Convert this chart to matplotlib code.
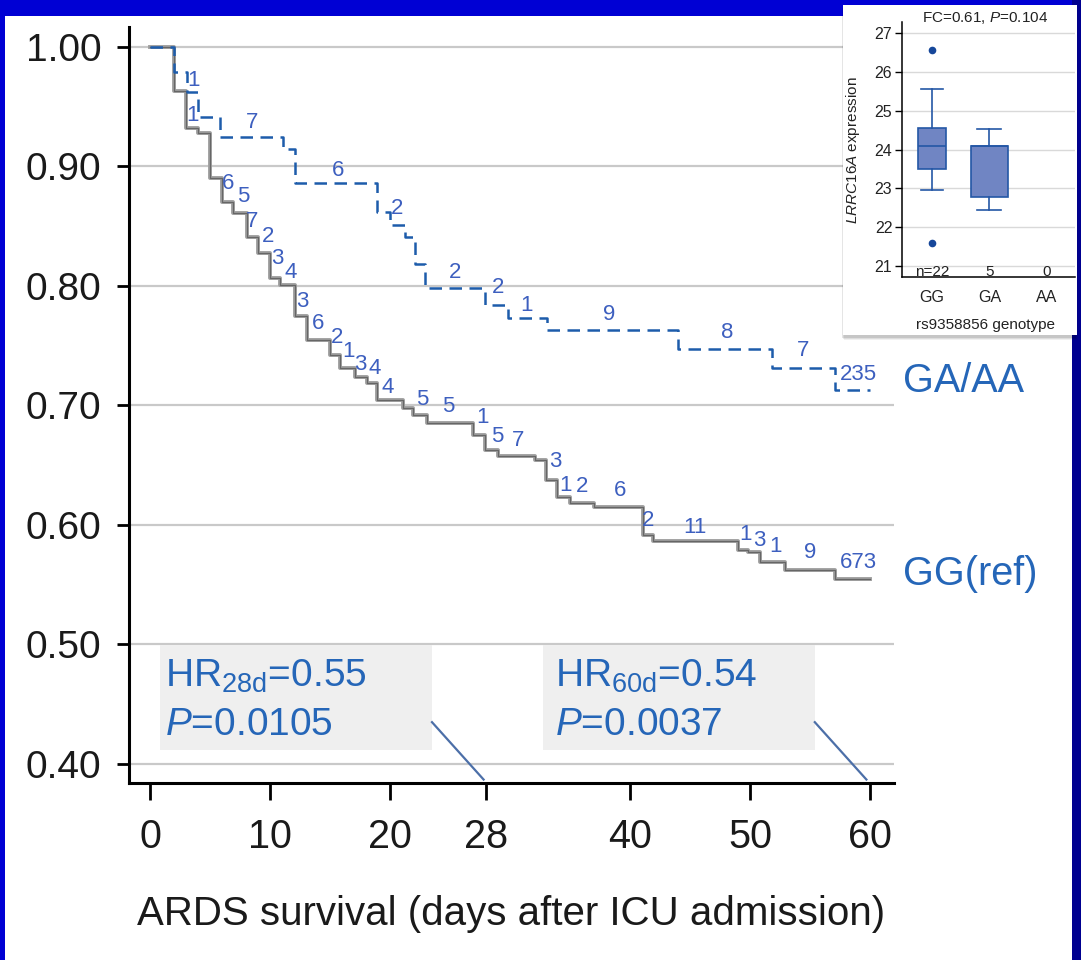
import matplotlib
matplotlib.use("Agg")
import matplotlib.pyplot as plt
from matplotlib.patches import Rectangle

plt.rcParams["font.family"] = ["Liberation Sans", "DejaVu Sans"]
plt.rcParams["mathtext.fontset"] = "custom"
plt.rcParams["mathtext.rm"] = "Liberation Sans"
plt.rcParams["mathtext.it"] = "Liberation Sans:italic"

# ---- Kaplan-Meier survival, GA/AA carriers ----
gaaa_time = [0, 2.0, 3.1, 4.0, 5.8, 11.1, 12.1, 18.9, 20.0, 21.25, 22.1, 22.9,
             27.9, 29.8, 33.1, 44.0, 51.8, 57.1, 60]
gaaa_surv = [1.0, 0.979, 0.962, 0.941, 0.925, 0.915, 0.886, 0.862, 0.851, 0.841,
             0.818, 0.798, 0.784, 0.773, 0.763, 0.747, 0.731, 0.713, 0.713]

# ---- Kaplan-Meier survival, GG (reference) ----
gg_time = [0, 2.0, 3.0, 4.0, 5.0, 6.0, 6.9, 8.1, 9.0, 10.0, 10.8, 12.1, 13.1, 15.0,
           15.8, 17.1, 18.1, 18.9, 21.1, 21.9, 23.1, 26.9, 27.9, 29.0, 32.1, 33.0,
           33.9, 35.0, 37.0, 41.1, 41.9, 49.0, 49.8, 50.8, 52.9, 57.1, 60]
gg_surv = [1.0, 0.963, 0.932, 0.928, 0.890, 0.870, 0.861, 0.841, 0.828, 0.807, 0.801,
           0.775, 0.755, 0.742, 0.731, 0.724, 0.719, 0.705, 0.698, 0.692, 0.685, 0.675,
           0.663, 0.658, 0.654, 0.638, 0.623, 0.618, 0.615, 0.592, 0.587, 0.579, 0.577,
           0.569, 0.562, 0.555, 0.555]

# censoring counts written along each curve
gaaa_cens_x = [3.6, 8.5, 15.7, 20.6, 25.4, 29.0, 31.4, 38.3, 48.1, 54.4, 59.0]
gaaa_cens_y = [0.972, 0.937, 0.897, 0.865, 0.811, 0.799, 0.784, 0.776, 0.761, 0.746, 0.726]
gaaa_cens_n = ["1", "7", "6", "2", "2", "2", "1", "9", "8", "7", "235"]

gg_cens_x = [3.5, 6.5, 7.75, 8.5, 9.83, 10.6, 11.75, 12.67, 14.0, 15.6, 16.5, 17.5,
             18.75, 19.83, 22.67, 24.83, 27.67, 28.9, 30.67, 33.75, 34.6, 36.0, 39.2,
             41.5, 45.4, 49.6, 50.8, 52.1, 55.0, 59.0]
gg_cens_y = [0.943, 0.886, 0.875, 0.854, 0.841, 0.823, 0.811, 0.787, 0.769, 0.757,
             0.745, 0.734, 0.731, 0.715, 0.705, 0.699, 0.690, 0.674, 0.671, 0.653,
             0.633, 0.632, 0.629, 0.604, 0.598, 0.592, 0.587, 0.582, 0.577, 0.569]
gg_cens_n = ["1", "6", "5", "7", "2", "3", "4", "3", "6", "2", "1", "3", "4", "4", "5",
             "5", "1", "5", "7", "3", "1", "2", "6", "2", "11", "1", "3", "1", "9", "673"]

x_ticks = [0, 10, 20, 28, 40, 50, 60]
y_ticks = [0.40, 0.50, 0.60, 0.70, 0.80, 0.90, 1.00]

hr_28d, p_28d = 0.55, "0.0105"
hr_60d, p_60d = 0.54, "0.0037"

# ---- LRRC16A expression by rs9358856 genotype ----
genotypes = ["GG", "GA", "AA"]
geno_n = [22, 5, 0]
expr_q1 = [23.5, 22.78]
expr_med = [24.1, 24.1]
expr_q3 = [24.55, 24.1]
expr_lo = [22.97, 22.45]
expr_hi = [25.55, 24.52]
expr_out = [[26.55, 21.6], []]

W, H = 1081, 960
fig = plt.figure(figsize=(W / 100, H / 100), dpi=100)
fig.patch.set_facecolor("#0000d4")


def fx(px):
    return px / W


def fy(py):
    return 1 - py / H


# page
fig.add_artist(Rectangle((fx(5), 0), fx(1072 - 5), (H - 16) / H,
                         transform=fig.transFigure, facecolor="white",
                         edgecolor="none", zorder=-2))
fig.add_artist(Rectangle((fx(1072), 0), fx(9), 1, transform=fig.transFigure,
                         facecolor="#000090", edgecolor="none", zorder=-2))

ax = fig.add_axes([fx(129), fy(783), fx(894 - 129), (783 - 27) / H])
ax.set_facecolor("none")
ax.set_zorder(0)
ax.set_xlim(-1.75, 62.0)
ax.set_ylim(0.3841, 1.0167)
for s in ["top", "right"]:
    ax.spines[s].set_visible(False)
for s in ["left", "bottom"]:
    ax.spines[s].set_linewidth(2.2)
ax.set_xticks(x_ticks)
ax.set_yticks(y_ticks)
ax.set_yticklabels([f"{v:.2f}" for v in y_ticks])
ax.tick_params(axis="y", direction="out", length=9, width=2, pad=11,
               labelsize=28, labelcolor="#1a1a1a")
ax.tick_params(axis="x", direction="out", length=12, width=2, pad=13,
               labelsize=28.5, labelcolor="#1a1a1a")
ax.yaxis.grid(True, color="#c9c9c9", lw=1.6)
ax.set_axisbelow(True)
ax.set_xlabel("ARDS survival (days after ICU admission)", fontsize=29,
              color="#1a1a1a", labelpad=28)

# survival curves
ax.step(gg_time, gg_surv, where="post", color="#a0a0a0", lw=2.8, zorder=3)
ax.step(gg_time, gg_surv, where="post", color="#111111", lw=0.9, alpha=0.4, zorder=3)
ax.step(gaaa_time, gaaa_surv, where="post", color="#1d5cab", lw=1.8,
        linestyle=(0, (5, 3)), zorder=4)

lab_col = "#3d5fbf"
for x, y, t in zip(gaaa_cens_x, gaaa_cens_y, gaaa_cens_n):
    ax.text(x, y, t, fontsize=16, color=lab_col, ha="center", va="center", zorder=5)
for x, y, t in zip(gg_cens_x, gg_cens_y, gg_cens_n):
    ax.text(x, y, t, fontsize=16, color=lab_col, ha="center", va="center", zorder=5)

txt_col = "#2566b8"
ax.text(62.75, 0.7113, "GA/AA", fontsize=28.5, color=txt_col, ha="left",
        va="baseline", clip_on=False)
ax.text(62.75, 0.5498, "GG(ref)", fontsize=28.5, color=txt_col, ha="left",
        va="baseline", clip_on=False)

# hazard ratio boxes
for (x0, x1, xt, lab, hr, p, xe) in [(0.83, 23.5, 1.25, "28d", hr_28d, p_28d, 27.8),
                                     (32.75, 55.4, 33.75, "60d", hr_60d, p_60d, 59.7)]:
    ax.add_patch(Rectangle((x0, 0.4117), x1 - x0, 0.4996 - 0.4117,
                           facecolor="#efefef", edgecolor="none", zorder=2))
    ax.text(xt, 0.4644, rf"HR$_{{\mathrm{{{lab}}}}}$=" + f"{hr:.2f}", fontsize=28,
            color=txt_col, ha="left", va="baseline", zorder=3)
    ax.text(xt, 0.4243, r"$\mathit{P}$=" + p, fontsize=28, color=txt_col,
            ha="left", va="baseline", zorder=3)
    ax.plot([x1, xe], [0.435, 0.387], color="#4c6fa8", lw=1.6, zorder=3,
            clip_on=False)

# inset panel with shadow
for k, a in enumerate([0.10, 0.08, 0.06]):
    fig.add_artist(Rectangle((fx(843 - 1 + k), fy(335 + 3 + k)), fx(234), (330) / H,
                             transform=fig.transFigure, facecolor="#000000",
                             alpha=a, edgecolor="none", zorder=1))
fig.add_artist(Rectangle((fx(843), fy(335)), fx(1077 - 843), (335 - 5) / H,
                         transform=fig.transFigure, facecolor="white",
                         edgecolor="none", zorder=1.5))

ins = fig.add_axes([fx(902), fy(277), fx(1075 - 902), (277 - 22) / H])
ins.set_zorder(2)
ins.set_facecolor("none")
ins.set_xlim(0.478, 3.49)
ins.set_ylim(20.72, 27.28)
for s in ["top", "right"]:
    ins.spines[s].set_visible(False)
for s in ["left", "bottom"]:
    ins.spines[s].set_linewidth(1.1)
ins.set_yticks(range(21, 28))
ins.set_xticks([1, 2, 3])
ins.set_xticklabels(genotypes)
ins.tick_params(axis="y", direction="out", length=5, width=1, pad=2,
                labelsize=11.5, labelcolor="#222222")
ins.tick_params(axis="x", length=0, pad=9, labelsize=11.5, labelcolor="#222222")
ins.yaxis.grid(True, color="#d9d9d9", lw=1.0)
ins.set_axisbelow(True)

stats = []
for i in range(2):
    stats.append(dict(med=expr_med[i], q1=expr_q1[i], q3=expr_q3[i],
                      whislo=expr_lo[i], whishi=expr_hi[i], fliers=expr_out[i],
                      label=genotypes[i]))
edge = "#2457a6"
ins.bxp(stats, positions=[1, 2], widths=[0.48, 0.64], capwidths=[0.38, 0.42],
        patch_artist=True, manage_ticks=False,
        boxprops=dict(facecolor="#7085c3", edgecolor=edge, lw=1.2),
        medianprops=dict(color=edge, lw=1.2),
        whiskerprops=dict(color=edge, lw=1.2),
        capprops=dict(color=edge, lw=1.2),
        flierprops=dict(marker="o", markerfacecolor="#16479a",
                        markeredgecolor="none", markersize=5.5))

for i, n in enumerate(geno_n):
    ins.text(i + 1, 20.86, f"n={n}" if i == 0 else f"{n}", fontsize=11,
             color="#222222", ha="center", va="center")

fig.text(fx(853), fy(150), r"$\mathit{LRRC16A}$ expression", fontsize=11,
         rotation=90, ha="center", va="center", color="#222222", zorder=3)
fig.text(fx(986), fy(325), "rs9358856 genotype", fontsize=11, ha="center",
         va="center", color="#222222", zorder=3)
fig.text(fx(985), fy(18), r"FC=0.61, $\mathit{P}$=0.104", fontsize=11,
         ha="center", va="center", color="#222222", zorder=3)

fig.savefig("out.png", dpi=100, facecolor=fig.get_facecolor())
